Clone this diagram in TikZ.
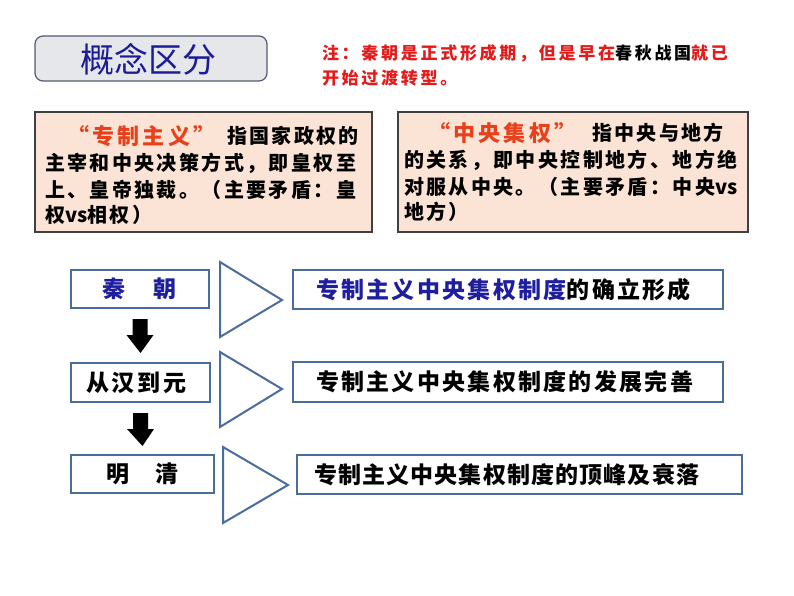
\documentclass[tikz,border=0pt]{standalone}
\usepackage{fontspec}
\usetikzlibrary{calc}
\newfontfamily\cjk{Noto Sans CJK SC}
\definecolor{titleblue}{HTML}{1C1C96}
\definecolor{notered}{HTML}{E31B1B}
\definecolor{quoteorg}{HTML}{E8401A}
\definecolor{steel}{HTML}{4A6E9C}
\definecolor{peach}{HTML}{FBE4D5}
\definecolor{titlefill}{HTML}{E6E7EB}
\definecolor{titledraw}{HTML}{505A70}
\definecolor{txtblue}{HTML}{1E1E9E}
\newcommand{\lsp}[1]{\addfontfeature{LetterSpace=#1}}
\newcommand{\tight}[1]{{\addfontfeature{LetterSpace=0}#1}}
\tikzset{
  txt/.style={anchor=west, inner sep=0pt, outer sep=0pt},
  defbox/.style={draw=black!75, line width=1.3pt, fill=peach, inner sep=0pt},
  stagebox/.style={draw=steel, line width=2pt, fill=white, inner sep=0pt},
  tri/.style={draw=steel, line width=2pt, fill=white, line join=miter},
  blockarrow/.style={fill=black, draw=none},
  notetxt/.style={txt, font=\cjk\bfseries\fontsize{17}{19}\selectfont\lsp{16}, text=notered},
  deftxt/.style={txt, font=\cjk\bfseries\fontsize{20}{22}\selectfont\lsp{12}},
  quotetxt/.style={txt, font=\cjk\bfseries\fontsize{22}{24}\selectfont\lsp{15}},
  stagetxt/.style={txt, font=\cjk\bfseries\fontsize{23}{26}\selectfont},
  restxt/.style={txt, font=\cjk\bfseries\fontsize{23}{26}\selectfont\lsp{10}},
}
\begin{document}
\begin{tikzpicture}[x=1pt,y=-1pt]
\useasboundingbox (0,0) rectangle (794,596);
\fill[white] (0,0) rectangle (794,596);

% title
\node[draw=titledraw, line width=1.2pt, fill=titlefill, rounded corners=8pt,
      minimum width=232pt, minimum height=45pt, inner sep=0pt] (title) at (151,58.5) {};
\node[inner sep=0pt, font=\cjk\fontsize{34}{37}\selectfont, text=titleblue] (titletxt) at (148,59) {概念区分};

% note
\node[notetxt] (note1) at (322,53) {注：秦朝是正式形成期，但是早在\textcolor{black}{春秋战国}就已};
\node[notetxt] (note2) at (322,78) {开始过渡转型。};

% definition boxes
\node[defbox, minimum width=337pt, minimum height=120pt] (zz) at (203.5,172) {};
\node[defbox, minimum width=350pt, minimum height=120pt] (jq) at (573,172) {};

\node[quotetxt, text=quoteorg] (zzq) at (67,136) {“专制主义”};
\node[deftxt] (zz1) at (227,136) {指国家政权的};
\node[deftxt] (zz2) at (45,163) {主宰和中央决策方式，即皇权至};
\node[deftxt] (zz3) at (45,190) {上、皇帝独裁。（主要矛盾：皇};
\node[deftxt] (zz4) at (45,215) {权\tight{vs}相权）};

\node[quotetxt, text=quoteorg] (jqq) at (428,133) {“中央集权”};
\node[deftxt] (jq1) at (592,133) {指中央与地方};
\node[deftxt] (jq2) at (404,160) {的关系，即中央控制地方、地方绝};
\node[deftxt] (jq3) at (404,187) {对服从中央。（主要矛盾：中央\tight{vs}};
\node[deftxt] (jq4) at (404,212) {地方）};

% stage boxes
\node[stagebox, minimum width=138pt, minimum height=38pt] (qin) at (140,289) {};
\node[stagebox, minimum width=139pt, minimum height=39pt] (hy) at (140.5,382.5) {};
\node[stagebox, minimum width=143pt, minimum height=38pt] (mq) at (142.5,474) {};
\node[stagetxt, text=txtblue] at (102,289) {秦\hspace{29pt}朝};
\node[stagetxt] at (86,382.5) {\lsp{13}从汉到元};
\node[stagetxt] at (106,474) {明\hspace{27pt}清};

% block arrows
\fill[blockarrow] ($(qin.south)+(-7.5,10)$) -- ++(15,0) -- ++(0,16) -- ++(6,0) -- ($(hy.north)+(0,-9)$)
   -- ($(qin.south)+(-13.5,26)$) -- ++(6,0) -- cycle;
\fill[blockarrow] ($(hy.south)+(-7.5,10)$) -- ++(15,0) -- ++(0,16) -- ++(6,0) -- ($(mq.north)+(0,-8)$)
   -- ($(hy.south)+(-13.5,26)$) -- ++(6,0) -- cycle;

% triangles
\draw[tri] (220,262) -- (282,300) -- (220,337) -- cycle;
\draw[tri] (220,352) -- (282,389) -- (220,427) -- cycle;
\draw[tri] (223,447) -- (288,485) -- (223,523) -- cycle;

% result boxes
\node[stagebox, minimum width=430pt, minimum height=39pt] (r1) at (508,289.5) {};
\node[stagebox, minimum width=430pt, minimum height=40pt] (r2) at (508,382) {};
\node[stagebox, minimum width=445pt, minimum height=39pt] (r3) at (519.5,474.5) {};
\node[restxt] at (316,289.5) {\textcolor{txtblue}{专制主义中央集权制度}的确立形成};
\node[restxt] at (316,382) {专制主义中央集权制度的发展完善};
\node[restxt, font=\cjk\bfseries\fontsize{23}{26}\selectfont\lsp{5}] at (314,474.5) {专制主义中央集权制度的顶峰及衰落};
\end{tikzpicture}
\end{document}
